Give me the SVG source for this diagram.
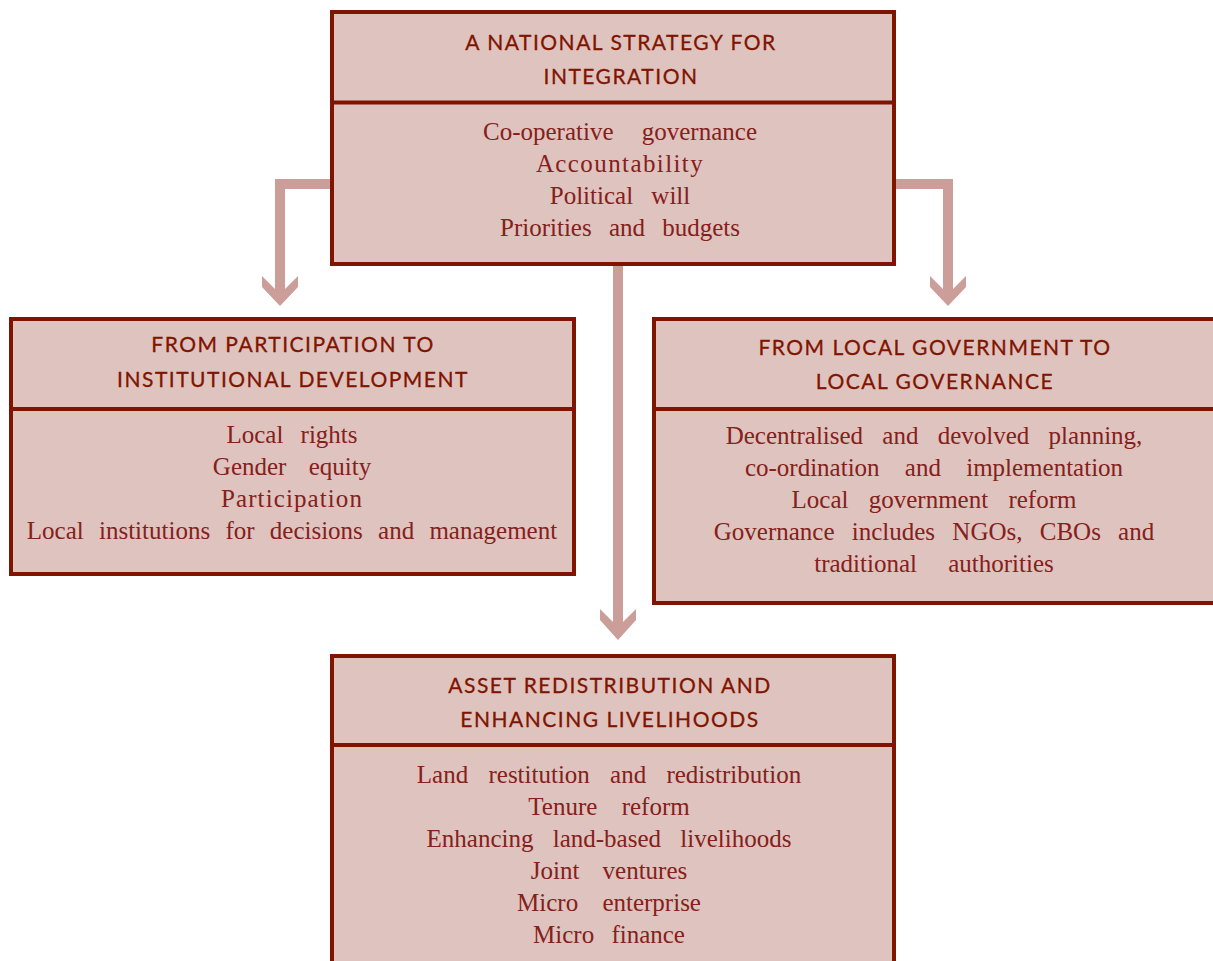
<svg xmlns="http://www.w3.org/2000/svg" width="1213" height="961" viewBox="0 0 1213 961">
<style>
.box{fill:#dfc3bf;stroke:#7f1400;stroke-width:4}
.sep{stroke:#7f1400;stroke-width:4}
.hd{font-family:Lato,"Open Sans",sans-serif;font-size:21px;fill:#7f1400;text-anchor:middle;letter-spacing:1.5px;stroke:#7f1400;stroke-width:0.3}
.bd{font-family:"Liberation Serif",serif;font-size:25px;fill:#85201a;text-anchor:middle}
.ar{fill:#cc9e9a;stroke:none}
</style>
<rect width="1213" height="961" fill="#ffffff"/>
<g id="connectors">
<path class="ar" d="M331,179 H275 V294 H285 V189 H331 Z"/>
<polygon class="ar" points="262,276 280,294 298,276 298,287 280,306 262,287"/>
<path class="ar" d="M896,179 H953 V294 H943 V189 H896 Z"/>
<polygon class="ar" points="930,276 948,294 966,276 966,287 948,306 930,287"/>
<rect class="ar" x="613" y="265" width="10" height="362"/>
<polygon class="ar" points="600,609 618,627 636,609 636,620 618,640 600,620"/>
</g>
<g id="node-national">
<rect class="box" x="332" y="12" width="562" height="252"/>
<line class="sep" x1="332" y1="102.5" x2="894" y2="102.5"/>
<text class="hd" x="621" y="50">A NATIONAL STRATEGY FOR</text>
<text class="hd" x="621" y="84">INTEGRATION</text>
<text class="bd" x="620" y="140" word-spacing="22">Co-operative governance</text>
<text class="bd" x="620" y="172" letter-spacing="1.4">Accountability</text>
<text class="bd" x="620" y="204" word-spacing="12">Political will</text>
<text class="bd" x="620" y="236" word-spacing="11">Priorities and budgets</text>
</g>
<g id="node-participation">
<rect class="box" x="11" y="319" width="563" height="255"/>
<line class="sep" x1="11" y1="409" x2="574" y2="409"/>
<text class="hd" x="293" y="352">FROM PARTICIPATION TO</text>
<text class="hd" x="293" y="387">INSTITUTIONAL DEVELOPMENT</text>
<text class="bd" x="292" y="443" word-spacing="11">Local rights</text>
<text class="bd" x="292" y="475" word-spacing="16">Gender equity</text>
<text class="bd" x="292" y="507" letter-spacing="1.1">Participation</text>
<text class="bd" x="292" y="539" word-spacing="9">Local institutions for decisions and management</text>
</g>
<g id="node-governance">
<rect class="box" x="654" y="319" width="563" height="284"/>
<line class="sep" x1="654" y1="409" x2="1217" y2="409"/>
<text class="hd" x="935" y="355">FROM LOCAL GOVERNMENT TO</text>
<text class="hd" x="935" y="389">LOCAL GOVERNANCE</text>
<text class="bd" x="934" y="444" word-spacing="13">Decentralised and devolved planning,</text>
<text class="bd" x="934" y="476" word-spacing="19">co-ordination and implementation</text>
<text class="bd" x="934" y="508" word-spacing="14">Local government reform</text>
<text class="bd" x="934" y="540" word-spacing="11">Governance includes NGOs, CBOs and</text>
<text class="bd" x="934" y="572" word-spacing="25">traditional authorities</text>
</g>
<g id="node-asset">
<rect class="box" x="332" y="656" width="562" height="320"/>
<line class="sep" x1="332" y1="745" x2="894" y2="745"/>
<text class="hd" x="610" y="693">ASSET REDISTRIBUTION AND</text>
<text class="hd" x="610" y="727">ENHANCING LIVELIHOODS</text>
<text class="bd" x="609" y="783" word-spacing="14">Land restitution and redistribution</text>
<text class="bd" x="609" y="815" word-spacing="18">Tenure reform</text>
<text class="bd" x="609" y="847" word-spacing="13">Enhancing land-based livelihoods</text>
<text class="bd" x="609" y="879" word-spacing="17">Joint ventures</text>
<text class="bd" x="609" y="911" word-spacing="18">Micro enterprise</text>
<text class="bd" x="609" y="943" word-spacing="11">Micro finance</text>
</g>
</svg>
